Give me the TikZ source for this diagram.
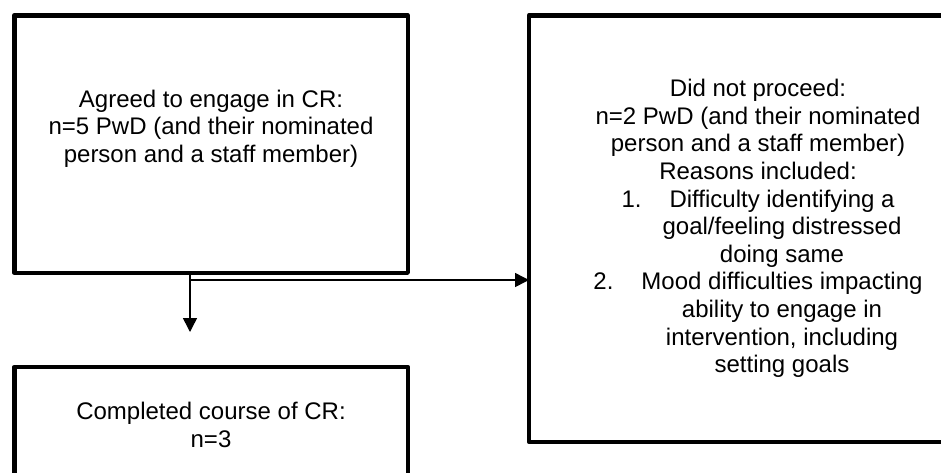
\documentclass[tikz,border=0pt]{standalone}
\usepackage{fontspec}
\setmainfont{Liberation Sans}
\usetikzlibrary{arrows.meta}

\begin{document}
\begin{tikzpicture}[x=1pt,y=-1pt,
  FlowBox/.style={draw,line width=4.5pt,line join=round,inner sep=0pt,outer sep=0pt,align=center,font=\fontsize{24}{27.6}\selectfont},
  FlowLink/.style={line width=1.5pt,-{Triangle[length=14pt,width=14pt]}}]
  \useasboundingbox (0,0) rectangle (941,472);
  \clip (0,0) rectangle (941,472);
  \node[FlowBox,minimum width=393.5pt,minimum height=257.5pt] (agreed) at (211,144) {Agreed to engage in CR:\\n=5 PwD (and their nominated\\person and a staff member)\\ \strut};
  \node[FlowBox,minimum width=458pt,minimum height=426.5pt] (notproc) at (758,228.5) {Did not proceed:\\n=2 PwD (and their nominated\\person and a staff member)\\Reasons included:\\
    1.\hspace{28pt}Difficulty identifying a\\\hspace*{48pt}goal/feeling distressed\\\hspace*{48pt}doing same\\
    2.\hspace{28pt}Mood difficulties impacting\\\hspace*{48pt}ability to engage in\\\hspace*{48pt}intervention, including\\\hspace*{48pt}setting goals};
  \node[FlowBox,minimum width=393.5pt,minimum height=116pt] (completed) at (211,425) {Completed course of CR:\\n=3};
  \coordinate (split) at (190,280);
  \coordinate (tip) at (190,332);
  \draw[FlowLink] (split |- agreed.south) -- (tip);
  \draw[FlowLink] (split) -- (split -| notproc.west);
\end{tikzpicture}
\end{document}
